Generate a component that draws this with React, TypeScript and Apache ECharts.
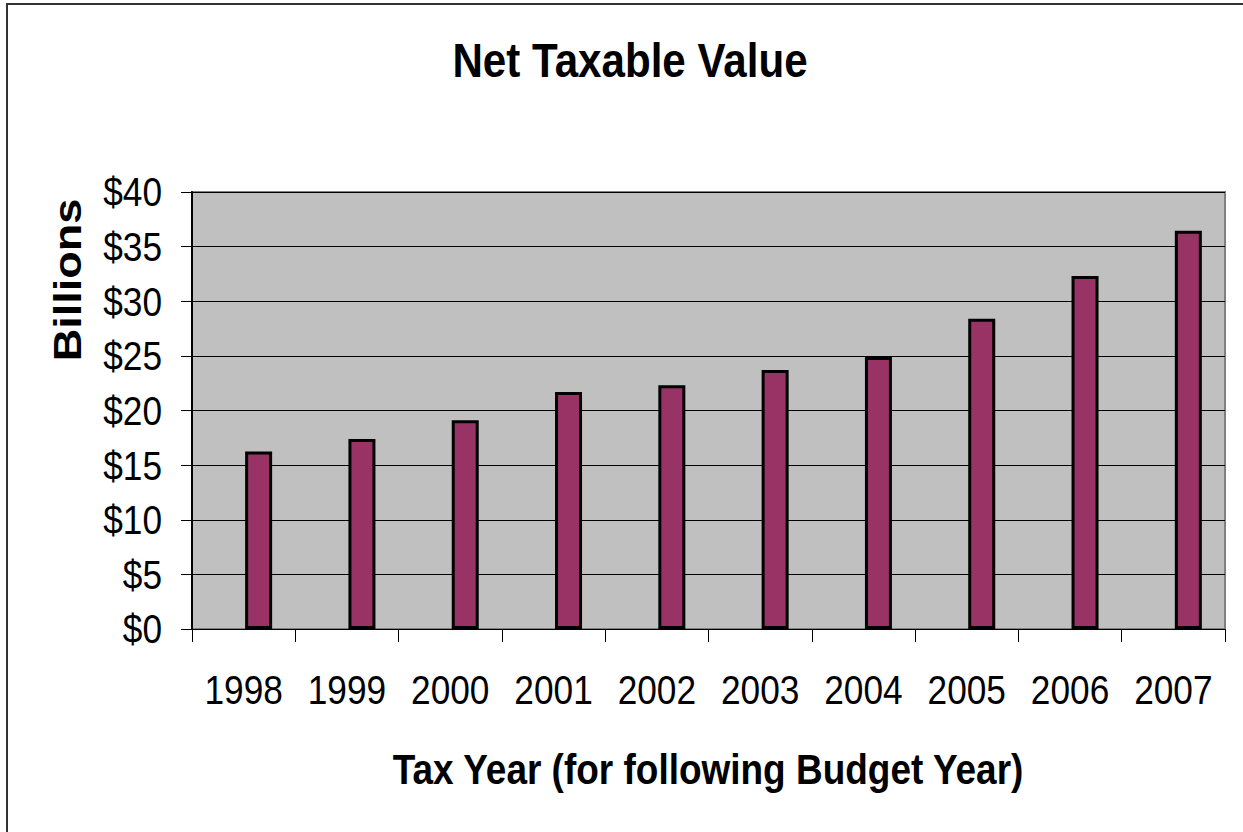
import React, { useEffect, useRef } from "react";
import * as echarts from "echarts";

const title = "Net Taxable Value";
const yAxisName = "Billions";
const xAxisName = "Tax Year (for following Budget Year)";
const categories = ["1998", "1999", "2000", "2001", "2002", "2003", "2004", "2005", "2006", "2007"];
const values = [16.25, 17.4, 19.1, 21.7, 22.3, 23.7, 24.9, 28.4, 32.3, 36.45];
const yTicks = [0, 5, 10, 15, 20, 25, 30, 35, 40];
const emptySeries = categories.map(() => null);

const FONT = "'Liberation Sans', Arial, sans-serif";
const SQUEEZE = 0.86;

export default function App() {
  const ref = useRef<HTMLDivElement>(null);
  useEffect(() => {
    if (!ref.current) return;
    const chart = echarts.init(ref.current, null, { renderer: "svg" });
    chart.setOption({
      animation: false,
      backgroundColor: "#ffffff",
      grid: {
        left: 192,
        top: 192,
        right: 18,
        bottom: 203,
        show: true,
        backgroundColor: "#c0c0c0",
        borderColor: "#808080",
        borderWidth: 2,
      },
      xAxis: {
        type: "category",
        data: categories,
        axisLine: { show: true, lineStyle: { color: "#000", width: 1 } },
        axisTick: { show: true, length: 13, lineStyle: { color: "#000" } },
        axisLabel: { show: false },
      },
      yAxis: {
        type: "value",
        min: 0,
        max: 40,
        interval: 5,
        axisLine: { show: true, lineStyle: { color: "#000", width: 2 } },
        axisTick: { show: true, length: 11, lineStyle: { color: "#000" } },
        axisLabel: { show: false },
        splitLine: { show: true, lineStyle: { color: "#000", width: 1 } },
      },
      series: [
        {
          type: "bar",
          data: emptySeries,
          barWidth: 27,
          barGap: "11%",
          itemStyle: { color: "#993366", borderColor: "#000", borderWidth: 3 },
        },
        {
          type: "bar",
          data: values,
          barWidth: 27,
          barGap: "11%",
          itemStyle: { color: "#993366", borderColor: "#000", borderWidth: 3 },
        },
      ],
    });

    const graphics: any[] = [
      {
        type: "rect",
        shape: { x: 7, y: 4, width: 1300, height: 900 },
        style: { fill: "none", stroke: "#333", lineWidth: 2 },
        silent: true,
      },
      {
        type: "text",
        x: 630,
        y: 60,
        scaleX: SQUEEZE,
        style: {
          text: title,
          fontFamily: FONT,
          fontSize: 49,
          fontWeight: "bold",
          fill: "#000",
          align: "center",
          verticalAlign: "middle",
        },
      },
      {
        type: "text",
        x: 68,
        y: 280,
        rotation: Math.PI / 2,
        scaleY: SQUEEZE,
        style: {
          text: yAxisName,
          fontFamily: FONT,
          fontSize: 45,
          fontWeight: "bold",
          fill: "#000",
          align: "center",
          verticalAlign: "middle",
        },
      },
      {
        type: "text",
        x: 708,
        y: 769,
        scaleX: SQUEEZE,
        style: {
          text: xAxisName,
          fontFamily: FONT,
          fontSize: 43,
          fontWeight: "bold",
          fill: "#000",
          align: "center",
          verticalAlign: "middle",
        },
      },
    ];

    yTicks.forEach((v) => {
      const py = chart.convertToPixel({ yAxisIndex: 0 }, v) as number;
      graphics.push({
        type: "text",
        x: 162,
        y: py,
        scaleX: SQUEEZE,
        style: {
          text: "$" + v,
          fontFamily: FONT,
          fontSize: 41,
          fill: "#000",
          align: "right",
          verticalAlign: "middle",
        },
      });
    });

    categories.forEach((c) => {
      const px = chart.convertToPixel({ xAxisIndex: 0 }, c) as number;
      graphics.push({
        type: "text",
        x: px,
        y: 690,
        scaleX: SQUEEZE,
        style: {
          text: c,
          fontFamily: FONT,
          fontSize: 41,
          fill: "#000",
          align: "center",
          verticalAlign: "middle",
        },
      });
    });

    chart.setOption({ graphic: graphics });
    return () => chart.dispose();
  }, []);
  return (
    <div
      ref={ref}
      style={{ position: "absolute", left: 0, top: 0, width: 1243, height: 832 }}
    />
  );
}
